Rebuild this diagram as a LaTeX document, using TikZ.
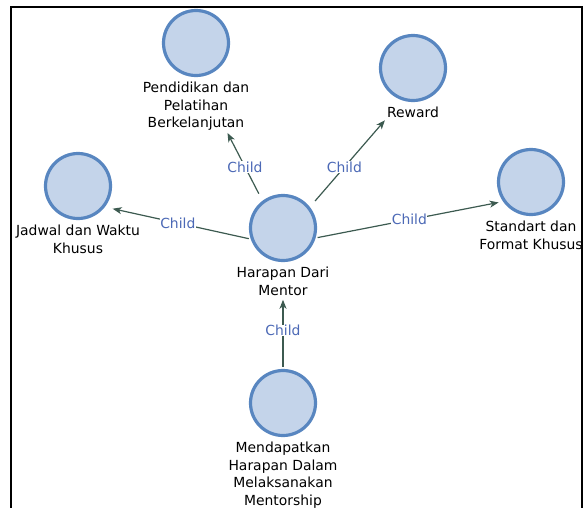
\documentclass[tikz,border=0pt]{standalone}
\usepackage{fontspec}
\setmainfont{DejaVu Sans}
\usepackage{tikz}
\usetikzlibrary{arrows.meta}
\usetikzlibrary{positioning}
\definecolor{bubblefill}{HTML}{C4D4EA}
\definecolor{bubbleline}{HTML}{5886C0}
\definecolor{linkcol}{HTML}{3C5A50}
\definecolor{childcol}{HTML}{4C69B6}
\tikzset{bubble/.style = {circle, draw = bubbleline, fill = bubblefill, line width = 3.2pt, minimum size = 65pt, inner sep = 0}}
\tikzset{lbl/.style = {align = center, inner sep = 2pt, text = black, font = \fontsize{13.9}{17.5}\selectfont}}
\tikzset{link/.style = {draw = linkcol, line width = 1.2pt, -{Stealth[length = 9pt, width = 7pt, inset = 2.5pt]}}}
\tikzset{childtag/.style = {fill = white, inner sep = 0.6pt, text = childcol, font = \fontsize{13.9}{16}\selectfont}}

\begin{document}
\begin{tikzpicture}[x = 1pt, y = -1pt]
    \useasboundingbox (0, 0) rectangle (586, 507);
    \draw [line width = 2pt] (11, 512) -- (11, 7) -- (582, 7) -- (582, 512);

    % bubbles
    \node [bubble] (hope) at (283, 228) {};
    \node [bubble] (pend) at (196, 43) {};
    \node [bubble] (reward) at (413, 68) {};
    \node [bubble] (jadwal) at (78, 186) {};
    \node [bubble] (std) at (531, 182) {};
    \node [bubble] (mend) at (283, 403) {};

    % captions
    \node [lbl, below = 3pt of hope] (hopelab) {Harapan Dari\\Mentor};
    \node [lbl, below = 3pt of pend] (pendlab) {Pendidikan dan\\Pelatihan\\Berkelanjutan};
    \node [lbl, below = 3pt of reward] (rewardlab) {Reward};
    \node [lbl, below = 3pt of jadwal] (jadwallab) {Jadwal dan Waktu\\Khusus};
    \node [lbl, below = 3pt of std] (stdlab) {Standart dan\\Format Khusus};
    \node [lbl, below = 3pt of mend] (mendlab) {Mendapatkan\\Harapan Dalam\\Melaksanakan\\Mentorship};

    % links
    \draw [link, shorten <= 8pt] (hope.127) -- (pendlab.-40) node [childtag, pos = 0.5] {Child};
    \draw [link, shorten <= 8pt] (hope.38) -- (rewardlab.south west) node [childtag, pos = 0.46] {Child};
    \draw [link, shorten <= 2pt, shorten >= 8pt] (hope.199) -- (jadwal.-38) node [childtag, pos = 0.5] {Child};
    \draw [link, shorten <= 2pt, shorten >= 4.5pt] (hope.-17) -- (std.215) node [childtag, pos = 0.5] {Child};
    \draw [link, shorten <= 2pt, shorten >= 2pt] (mend.north) -- (hopelab.south) node [childtag, pos = 0.54] {Child};
\end{tikzpicture}
\end{document}
